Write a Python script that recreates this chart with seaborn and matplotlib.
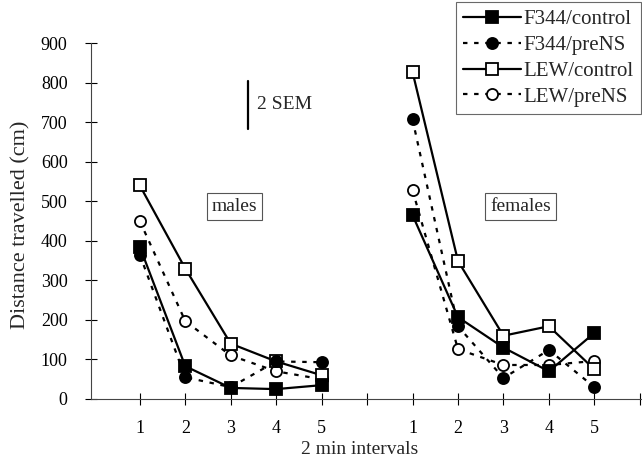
import numpy as np
import pandas as pd
import matplotlib
matplotlib.use("Agg")
import matplotlib.pyplot as plt
import seaborn as sns
from matplotlib.lines import Line2D

# valores (cm)
intervalos = [1, 2, 3, 4, 5]
machos = {
    "F344/control": [385, 83, 28, 25, 35],
    "F344/preNS": [365, 55, 30, 95, 93],
    "LEW/control": [540, 330, 140, 95, 60],
    "LEW/preNS": [450, 197, 110, 70, 50],
}
femeas = {
    "F344/control": [465, 207, 130, 70, 167],
    "F344/preNS": [707, 184, 53, 124, 30],
    "LEW/control": [827, 349, 160, 184, 75],
    "LEW/preNS": [528, 126, 86, 86, 96],
}
yticks = [0, 100, 200, 300, 400, 500, 600, 700, 800, 900]
grupos = ["F344/control", "F344/preNS", "LEW/control", "LEW/preNS"]

estilos = {
    "F344/control": dict(marker="s", mfc="black", ls="-"),
    "F344/preNS": dict(marker="o", mfc="black", ls=(0, (2, 3))),
    "LEW/control": dict(marker="s", mfc="white", ls="-"),
    "LEW/preNS": dict(marker="o", mfc="white", ls=(0, (2, 3))),
}

# tabela longa
linhas = []
for sexo, dados, desloc in [("males", machos, 0), ("females", femeas, 6)]:
    for grupo, vals in dados.items():
        for i, v in zip(intervalos, vals):
            linhas.append({"sexo": sexo, "grupo": grupo, "x": i + desloc, "dist": v})
df = pd.DataFrame(linhas)

sns.set_style("ticks")
plt.rcParams["font.family"] = ["Liberation Serif", "DejaVu Serif"]

fig = plt.figure(figsize=(6.42, 4.61), dpi=100)
ax = fig.add_axes([0.142, 0.1345, 0.856, 0.772])

ordem = ["LEW/preNS", "LEW/control", "F344/preNS", "F344/control"]
for sexo in ["males", "females"]:
    for grupo in ordem:
        sub = df[(df.sexo == sexo) & (df.grupo == grupo)]
        st = estilos[grupo]
        sns.lineplot(data=sub, x="x", y="dist", ax=ax, color="black",
                     linewidth=1.6, linestyle=st["ls"], marker=st["marker"],
                     markersize=8, markerfacecolor=st["mfc"],
                     markeredgecolor="black", markeredgewidth=1.3)

ax.set_xlim(-0.07, 12.02)
ax.set_ylim(0, 900)
ax.set_yticks(yticks)
ax.set_xticks(range(1, 13))
ax.set_xticklabels(["1", "2", "3", "4", "5", "", "1", "2", "3", "4", "5", ""])
ax.tick_params(direction="inout", length=8, width=0.8, labelsize=13, colors="black")
ax.tick_params(axis="x", pad=11)
ax.tick_params(axis="y", pad=13)
for s in ["top", "right"]:
    ax.spines[s].set_visible(False)
for s in ["left", "bottom"]:
    ax.spines[s].set_linewidth(0.8)
    ax.spines[s].set_color("#444444")
ax.set_xlabel("2 min intervals", fontsize=14, va="top")
ax.xaxis.set_label_coords(0.489, -0.118)
ax.set_ylabel("Distance travelled (cm)", fontsize=16)
ax.yaxis.set_label_coords(-0.111, 0.49)

# caixas de texto
caixa = dict(boxstyle="square,pad=0.25", fc="white", ec="#555555", lw=0.8)
ax.text(3.09, 487, "males", fontsize=14, ha="center", va="center", bbox=caixa)
ax.text(9.38, 487, "females", fontsize=14, ha="center", va="center", bbox=caixa)

# barra de 2 SEM
ax.plot([3.39, 3.39], [684, 803], color="black", lw=1.6)
ax.text(3.57, 745, "2 SEM", fontsize=14, ha="left", va="center")

# legenda
handles = []
for grupo in grupos:
    st = estilos[grupo]
    handles.append(Line2D([], [], color="black", lw=1.6, ls=st["ls"], marker=st["marker"],
                          markersize=8, mfc=st["mfc"], mec="black", mew=1.3))
leg = fig.legend(handles, grupos,
                 loc="upper right", bbox_to_anchor=(0.998, 0.995), fontsize=15,
                 handlelength=2.8, numpoints=1, frameon=True, fancybox=False,
                 borderpad=0.35, labelspacing=0.3, handletextpad=0.1, borderaxespad=0)
leg.get_frame().set_edgecolor("#444444")
leg.get_frame().set_linewidth(0.8)

fig.savefig("out.png", dpi=100)
